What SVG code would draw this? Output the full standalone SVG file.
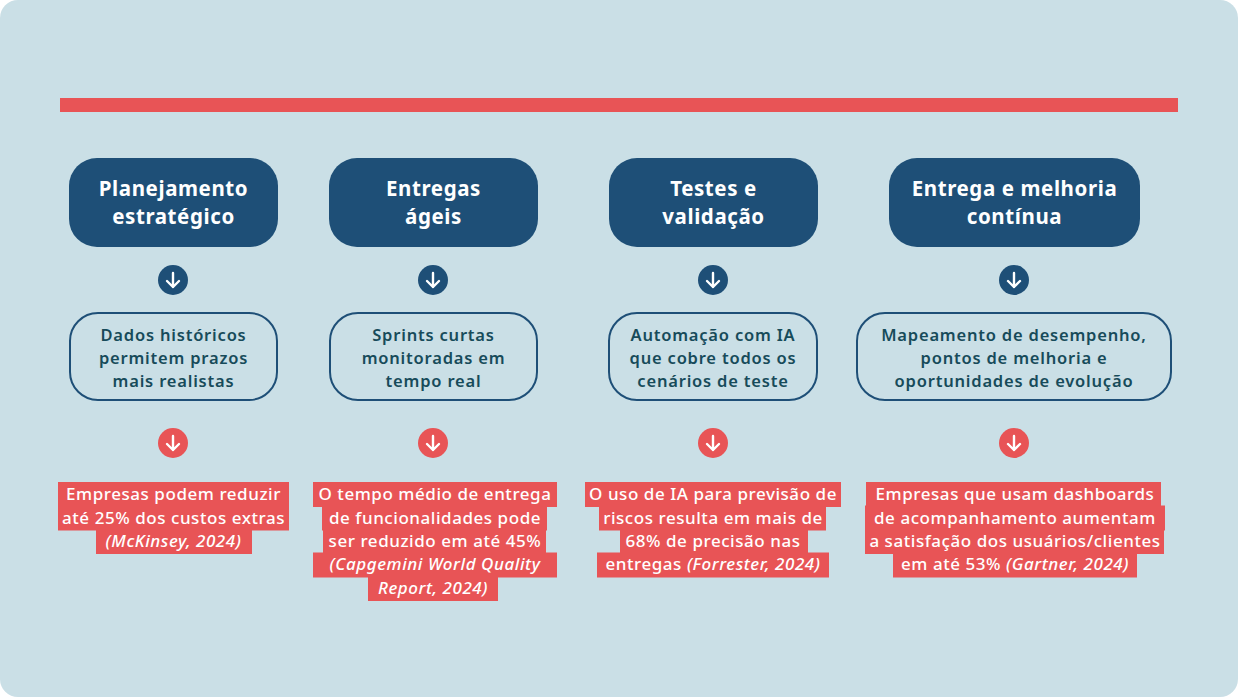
<svg xmlns="http://www.w3.org/2000/svg" width="1238" height="697" viewBox="0 0 1238 697">
<style>
.title{font-family:"Noto Sans","DejaVu Sans",sans-serif;font-weight:700;font-size:20.5px;fill:#ffffff;text-anchor:middle;letter-spacing:0.6px}
.desc{font-family:"Noto Sans","DejaVu Sans",sans-serif;font-weight:600;font-size:16.5px;fill:#174b5a;text-anchor:middle;letter-spacing:0.8px}
.stat{font-family:"Noto Sans","DejaVu Sans",sans-serif;font-weight:500;font-size:17px;fill:#ffffff;text-anchor:middle;letter-spacing:0.55px}
.src{font-style:italic}
.head{fill:#1e4f77}
.box{fill:#cadfe6;stroke:#1e4f77;stroke-width:2}
.hl{fill:#e85456}
.ib{fill:#1e4f77}
.ir{fill:#e85456}
.ar{fill:none;stroke:#ffffff;stroke-width:2.4;stroke-linecap:round;stroke-linejoin:round}
</style>
<defs>
<g id="arrow"><path class="ar" d="M0,-7 V7 M-6,1 L0,7 L6,1"/></g>
</defs>
<rect x="0" y="0" width="1238" height="697" rx="18" fill="#cadfe6"/>
<rect x="60" y="98" width="1118" height="14" fill="#e85456"/>

<g id="connectors">
<circle class="ib" cx="173" cy="280" r="15"/><use href="#arrow" x="173" y="280"/>
<circle class="ib" cx="433" cy="280" r="15"/><use href="#arrow" x="433" y="280"/>
<circle class="ib" cx="713" cy="280" r="15"/><use href="#arrow" x="713" y="280"/>
<circle class="ib" cx="1014" cy="280" r="15"/><use href="#arrow" x="1014" y="280"/>
<circle class="ir" cx="173" cy="443" r="15"/><use href="#arrow" x="173" y="443"/>
<circle class="ir" cx="433" cy="443" r="15"/><use href="#arrow" x="433" y="443"/>
<circle class="ir" cx="713" cy="443" r="15"/><use href="#arrow" x="713" y="443"/>
<circle class="ir" cx="1014" cy="443" r="15"/><use href="#arrow" x="1014" y="443"/>
</g>

<g id="step1">
<rect class="head" x="69" y="158" width="209" height="89" rx="28"/>
<text class="title" x="173.5" y="196">Planejamento</text>
<text class="title" x="173.5" y="224">estratégico</text>
</g>
<g id="step2">
<rect class="head" x="329" y="158" width="209" height="89" rx="28"/>
<text class="title" x="433.5" y="196">Entregas</text>
<text class="title" x="433.5" y="224">ágeis</text>
</g>
<g id="step3">
<rect class="head" x="609" y="158" width="209" height="89" rx="28"/>
<text class="title" x="713.5" y="196">Testes e</text>
<text class="title" x="713.5" y="224">validação</text>
</g>
<g id="step4">
<rect class="head" x="889" y="158" width="251" height="89" rx="28"/>
<text class="title" x="1014.5" y="196">Entrega e melhoria</text>
<text class="title" x="1014.5" y="224">contínua</text>
</g>

<g id="desc1">
<rect class="box" x="70" y="313" width="207" height="87" rx="28"/>
<text class="desc" x="173.5" y="341">Dados históricos</text>
<text class="desc" x="173.5" y="364">permitem prazos</text>
<text class="desc" x="173.5" y="387">mais realistas</text>
</g>
<g id="desc2">
<rect class="box" x="330" y="313" width="207" height="87" rx="28"/>
<text class="desc" x="433.5" y="341">Sprints curtas</text>
<text class="desc" x="433.5" y="364">monitoradas em</text>
<text class="desc" x="433.5" y="387">tempo real</text>
</g>
<g id="desc3">
<rect class="box" x="609" y="313" width="208" height="87" rx="28"/>
<text class="desc" x="713" y="341">Automação com IA</text>
<text class="desc" x="713" y="364">que cobre todos os</text>
<text class="desc" x="713" y="387">cenários de teste</text>
</g>
<g id="desc4">
<rect class="box" x="857" y="313" width="314" height="87" rx="28"/>
<text class="desc" x="1014" y="341">Mapeamento de desempenho,</text>
<text class="desc" x="1014" y="364">pontos de melhoria e</text>
<text class="desc" x="1014" y="387">oportunidades de evolução</text>
</g>

<g id="stat1">
<rect class="hl" x="58" y="482" width="231" height="25"/>
<rect class="hl" x="58" y="505.5" width="231" height="25"/>
<rect class="hl" x="96" y="529" width="156" height="25"/>
<text class="stat" x="173.5" y="500">Empresas podem reduzir</text>
<text class="stat" x="173.5" y="524">até 25% dos custos extras</text>
<text class="stat src" x="173.5" y="547">(McKinsey, 2024)</text>
</g>
<g id="stat2">
<rect class="hl" x="313" y="482" width="244" height="25"/>
<rect class="hl" x="322" y="505.5" width="225" height="25"/>
<rect class="hl" x="323" y="529" width="223" height="25"/>
<rect class="hl" x="313" y="552.5" width="244" height="25"/>
<rect class="hl" x="368" y="576" width="130" height="25"/>
<text class="stat" x="435" y="500">O tempo médio de entrega</text>
<text class="stat" x="435" y="524">de funcionalidades pode</text>
<text class="stat" x="435" y="547">ser reduzido em até 45%</text>
<text class="stat src" x="435" y="570">(Capgemini World Quality</text>
<text class="stat src" x="433" y="594">Report, 2024)</text>
</g>
<g id="stat3">
<rect class="hl" x="585" y="482" width="256" height="25"/>
<rect class="hl" x="599" y="505.5" width="227" height="25"/>
<rect class="hl" x="620" y="529" width="188" height="25"/>
<rect class="hl" x="597" y="552.5" width="232" height="25"/>
<text class="stat" x="713" y="500">O uso de IA para previsão de</text>
<text class="stat" x="713" y="524">riscos resulta em mais de</text>
<text class="stat" x="713" y="547">68% de precisão nas</text>
<text class="stat" x="713" y="570">entregas <tspan class="src">(Forrester, 2024)</tspan></text>
</g>
<g id="stat4">
<rect class="hl" x="866" y="482" width="295" height="25"/>
<rect class="hl" x="865" y="505.5" width="300" height="25"/>
<rect class="hl" x="865" y="529" width="299" height="25"/>
<rect class="hl" x="893" y="552.5" width="244" height="25"/>
<text class="stat" x="1015" y="500">Empresas que usam dashboards</text>
<text class="stat" x="1015" y="524">de acompanhamento aumentam</text>
<text class="stat" x="1015" y="547">a satisfação dos usuários/clientes</text>
<text class="stat" x="1015" y="570">em até 53% <tspan class="src">(Gartner, 2024)</tspan></text>
</g>
</svg>
